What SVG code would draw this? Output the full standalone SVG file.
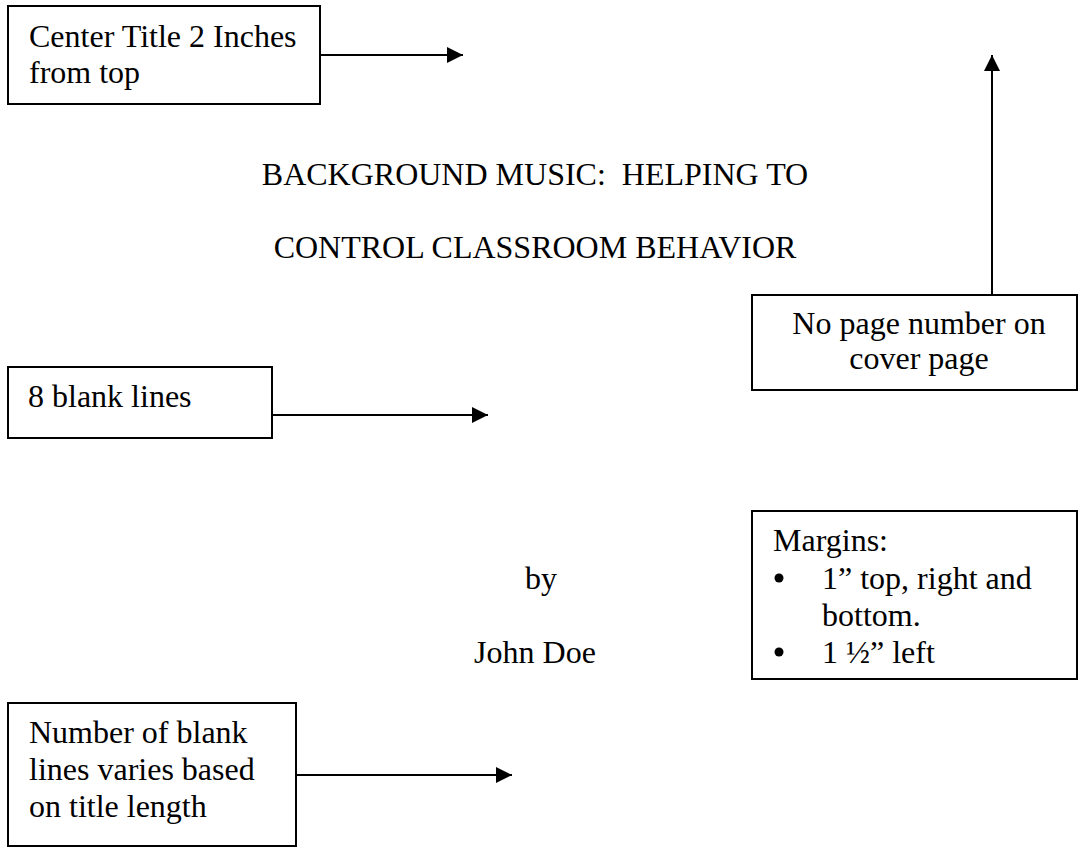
<svg xmlns="http://www.w3.org/2000/svg" width="1079" height="848" viewBox="0 0 1079 848">
<style>
  text { font-family: "Liberation Serif", "Times New Roman", serif; font-size: 32px; fill: #000; }
  .box { fill: #fff; stroke: #000; stroke-width: 2; }
  .conn { stroke: #000; stroke-width: 2; fill: none; marker-end: url(#arrow); }
  .mid { text-anchor: middle; }
</style>
<defs>
  <marker id="arrow" markerUnits="userSpaceOnUse" markerWidth="16" markerHeight="16" viewBox="0 0 16 16" refX="16" refY="8" orient="auto">
    <path d="M0,0 L16,8 L0,16 Z" fill="#000"/>
  </marker>
</defs>
<rect width="1079" height="848" fill="#fff"/>

<g id="title">
  <text class="mid" x="535" y="185" xml:space="preserve">BACKGROUND MUSIC:  HELPING TO</text>
  <text class="mid" x="535" y="258">CONTROL CLASSROOM BEHAVIOR</text>
  <text class="mid" x="541" y="589">by</text>
  <text class="mid" x="535" y="663">John Doe</text>
</g>

<g id="connectors">
  <line class="conn" x1="320" y1="55" x2="463" y2="55"/>
  <line class="conn" x1="992" y1="295" x2="992" y2="55"/>
  <line class="conn" x1="272" y1="415" x2="488" y2="415"/>
  <line class="conn" x1="296" y1="775" x2="512" y2="775"/>
</g>

<g id="note-center-title">
  <rect class="box" x="8" y="6" width="312" height="98"/>
  <text x="29" y="47">Center Title 2 Inches</text>
  <text x="29" y="83">from top</text>
</g>

<g id="note-page-number">
  <rect class="box" x="752" y="295" width="325" height="95"/>
  <text class="mid" x="919" y="334">No page number on</text>
  <text class="mid" x="919" y="369">cover page</text>
</g>

<g id="note-blank-lines">
  <rect class="box" x="8" y="367" width="264" height="71"/>
  <text x="28" y="407">8 blank lines</text>
</g>

<g id="note-margins">
  <rect class="box" x="752" y="511" width="325" height="168"/>
  <text x="773" y="551">Margins:</text>
  <circle cx="779" cy="578" r="4.5" fill="#000"/>
  <text x="822" y="589">1” top, right and</text>
  <text x="822" y="626">bottom.</text>
  <circle cx="779" cy="652" r="4.5" fill="#000"/>
  <text x="822" y="663">1 ½” left</text>
</g>

<g id="note-title-length">
  <rect class="box" x="8" y="703" width="288" height="143"/>
  <text x="29" y="743">Number of blank</text>
  <text x="29" y="780">lines varies based</text>
  <text x="29" y="817">on title length</text>
</g>
</svg>
